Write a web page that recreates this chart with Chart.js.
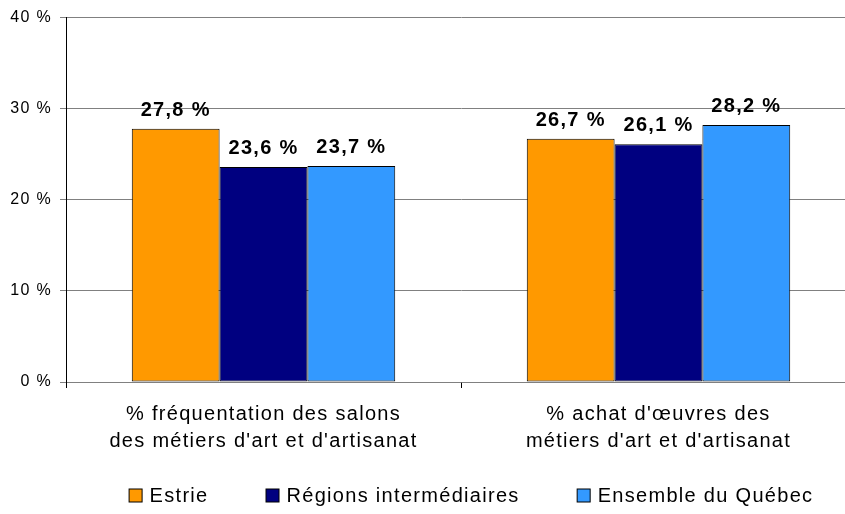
<!DOCTYPE html>
<html>
<head>
<meta charset="utf-8">
<script src="https://cdn.jsdelivr.net/npm/chart.js@4"></script>
<style>
  html, body { margin: 0; padding: 0; background: #fff; overflow: hidden; }
  #wrap { width: 860px; height: 514px; position: relative; }
</style>
</head>
<body>
<div id="wrap"><canvas id="myChart"></canvas></div>
<script>
let categories = [
    ['% fréquentation des salons', "des métiers d'art et d'artisanat"],
    ["% achat d'œuvres des", "métiers d'art et d'artisanat"]
]
let estrie = [27.8, 26.7]
let regions = [23.6, 26.1]
let quebec = [23.7, 28.2]
let seriesNames = ['Estrie', 'Régions intermédiaires', 'Ensemble du Québec']
let colorHex = ['#FF9900', '#000080', '#3399FF']
let yTicks = [0, 10, 20, 30, 40]

let fontName = '"Liberation Sans", Arial, sans-serif'
let spacing = '1.3px'

function pct(v) {
    return v.toFixed(1).replace('.', ',') + ' %'
}

// un peu d'espacement entre les lettres pour tout le texte du graphique
let textSpacing = {
    id: 'textSpacing',
    beforeInit(chart) { chart.ctx.letterSpacing = spacing },
    beforeLayout(chart) { chart.ctx.letterSpacing = spacing },
    beforeDraw(chart) { chart.ctx.letterSpacing = spacing }
}

// valeurs écrites au-dessus de chaque barre
let barLabels = {
    id: 'barLabels',
    afterDatasetsDraw(chart) {
        let ctx = chart.ctx
        ctx.save()
        ctx.font = 'bold 20px ' + fontName
        ctx.fillStyle = '#000'
        ctx.textAlign = 'center'
        ctx.textBaseline = 'alphabetic'
        chart.data.datasets.forEach(function(ds, i) {
            chart.getDatasetMeta(i).data.forEach(function(bar, j) {
                ctx.fillText(pct(ds.data[j]), bar.x, bar.y - 13)
            })
        })
        ctx.restore()
    }
}

// légende en bas, dessinée à la main pour garder la hauteur compacte
let bottomLegend = {
    id: 'bottomLegend',
    afterDraw(chart) {
        let ctx = chart.ctx
        let area = chart.chartArea
        ctx.save()
        ctx.font = '20px ' + fontName
        ctx.textBaseline = 'middle'
        ctx.textAlign = 'left'
        let box = 13, gapText = 8, gapItem = 57
        let widths = chart.data.datasets.map(function(ds) {
            return box + gapText + ctx.measureText(ds.label).width
        })
        let total = widths.reduce(function(a, b) { return a + b }, 0) + gapItem * (widths.length - 1)
        let x = (area.left + area.right) / 2 + 10 - total / 2
        let y = 495
        chart.data.datasets.forEach(function(ds, i) {
            ctx.fillStyle = ds.backgroundColor
            ctx.fillRect(x + 0.5, y - box / 2 + 0.5, box, box)
            ctx.strokeStyle = '#000'
            ctx.lineWidth = 1
            ctx.strokeRect(x + 0.5, y - box / 2 + 0.5, box, box)
            ctx.fillStyle = '#000'
            ctx.fillText(ds.label, x + box + gapText, y + 1)
            x += widths[i] + gapItem
        })
        ctx.restore()
    }
}

let chartakyu = document.getElementById('myChart').getContext('2d')
let myChart = new Chart(chartakyu, {
    type: 'bar',
    data: {
        labels: categories,
        datasets: [estrie, regions, quebec].map(function(d, i) {
            return {
                label: seriesNames[i],
                data: d,
                backgroundColor: colorHex[i],
                borderColor: '#000',
                borderWidth: 1,
                borderSkipped: false,
                categoryPercentage: 0.667,
                barPercentage: 1.0
            }
        })
    },
    options: {
        responsive: true,
        maintainAspectRatio: false,
        animation: false,
        layout: { padding: { top: 16, right: 4, bottom: 48, left: 0 } },
        plugins: {
            tooltip: { enabled: false },
            legend: { display: false }
        },
        scales: {
            x: {
                grid: {
                    display: true,
                    drawOnChartArea: false,
                    color: '#000',
                    tickLength: 6
                },
                border: { display: false },
                ticks: {
                    color: '#000',
                    padding: 13,
                    font: { family: fontName, size: 20, lineHeight: 1.35 },
                    maxRotation: 0
                },
                afterFit(scale) { scale.height = 84 }
            },
            y: {
                min: 0,
                max: 40,
                afterBuildTicks(scale) {
                    scale.ticks = yTicks.map(function(v) { return { value: v } })
                },
                grid: { color: '#808080', tickLength: 6 },
                border: { color: '#000' },
                ticks: {
                    color: '#000',
                    padding: 8,
                    font: { family: fontName, size: 16 },
                    callback: function(v) { return v + ' %' }
                },
                afterFit(scale) { scale.width = 66 }
            }
        }
    },
    plugins: [textSpacing, barLabels, bottomLegend]
})
</script>
</body>
</html>
